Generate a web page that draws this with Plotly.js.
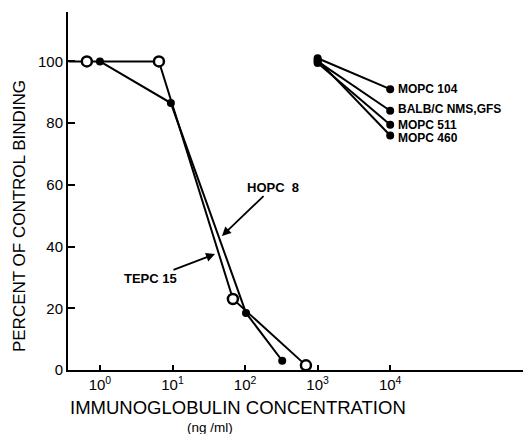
<!DOCTYPE html>
<html>
<head>
<meta charset="utf-8">
<script src="https://cdn.plot.ly/plotly-3.0.1.min.js"></script>
<style>html,body{margin:0;padding:0;background:#fff;}#chart{width:525px;height:434px;}</style>
</head>
<body>
<div id="chart"></div>
<script>
// Data
const tepcConc = [0.37, 0.66, 6.5, 68, 690];     // ng/ml (first value = start of line at axis edge)
const tepcBinding = [100, 100, 100, 23, 1.5];
const hopcConc = [1, 9.5, 103, 325];
const hopcBinding = [100, 86.5, 18.5, 3];
const ctrlConc = [1000, 10000];
const mopc104 = [101, 91];
const balbNms = [100, 84];
const mopc511 = [99.5, 79.5];
const mopc460 = [100.5, 76];
const ctrlNames = ["MOPC 104", "BALB/C NMS,GFS", "MOPC 511", "MOPC 460"];
const ctrlSeries = [mopc104, balbNms, mopc511, mopc460];
const xTickVals = [1, 10, 100, 1000, 10000];
const xTickText = ["10<sup>0</sup>", "10<sup>1</sup>", "10<sup>2</sup>", "10<sup>3</sup>", "10<sup>4</sup>"];
const yTickVals = [0, 20, 40, 60, 80, 100];

const FONT = "Liberation Sans, Arial, sans-serif";
const traces = [];
traces.push({
  x: tepcConc, y: tepcBinding, mode: "lines+markers", name: "TEPC 15",
  line: {color: "#000", width: 2},
  marker: {symbol: "circle", size: tepcConc.map((v, i) => i === 0 ? 0 : 10), color: "#fff", opacity: 1, line: {color: "#000", width: 2.5}},
  cliponaxis: false
});
traces.push({
  x: hopcConc, y: hopcBinding, mode: "lines+markers", name: "HOPC 8",
  line: {color: "#000", width: 2},
  marker: {symbol: "circle", size: 8, color: "#000"},
  cliponaxis: false
});
ctrlSeries.forEach((s, i) => {
  traces.push({
    x: ctrlConc, y: s, mode: "lines+markers", name: ctrlNames[i],
    line: {color: "#000", width: 2},
    marker: {symbol: "circle", size: 8, color: "#000"},
    cliponaxis: false
  });
});

const labelShift = [0, 2, 0, -3];
const annotations = ctrlSeries.map((s, i) => ({
  x: Math.log10(ctrlConc[1]), y: s[1], xref: "x", yref: "y",
  text: "<b>" + ctrlNames[i] + "</b>", showarrow: false,
  xanchor: "left", yanchor: "middle", xshift: 6, yshift: labelShift[i],
  font: {family: FONT, size: 12, color: "#000"}
}));
annotations.push({
  x: Math.log10(48), y: 43.4, xref: "x", yref: "y",
  text: "<b>HOPC  8</b>", showarrow: true, arrowhead: 2, arrowsize: 1, arrowwidth: 1.8, arrowcolor: "#000",
  ax: 51, ay: -49, font: {family: FONT, size: 13, color: "#000"}
});
annotations.push({
  x: Math.log10(38.6), y: 37.6, xref: "x", yref: "y",
  text: "<b>TEPC 15</b>", showarrow: true, arrowhead: 2, arrowsize: 1, arrowwidth: 1.8, arrowcolor: "#000",
  ax: -65, ay: 25, font: {family: FONT, size: 13, color: "#000"}
});
annotations.push({
  x: 0.373, y: 0, xref: "paper", yref: "paper", yshift: -37,
  text: "IMMUNOGLOBULIN CONCENTRATION", showarrow: false,
  xanchor: "center", yanchor: "middle",
  font: {family: FONT, size: 18.5, color: "#000"}
});
annotations.push({
  x: 0.312, y: 0, xref: "paper", yref: "paper", yshift: -57,
  text: "(ng /ml)", showarrow: false,
  xanchor: "center", yanchor: "middle",
  font: {family: FONT, size: 13.5, color: "#000"}
});
annotations.push({
  x: 0, y: 0.43, xref: "paper", yref: "paper", xshift: -49,
  text: "PERCENT OF CONTROL BINDING", showarrow: false, textangle: -90,
  xanchor: "center", yanchor: "middle",
  font: {family: FONT, size: 17, color: "#000"}
});

const layout = {
  width: 525, height: 434,
  margin: {l: 68, r: 2, t: 12, b: 64},
  paper_bgcolor: "#fff", plot_bgcolor: "#fff",
  showlegend: false,
  font: {family: FONT, color: "#000"},
  xaxis: {
    type: "log", range: [-0.44, 5.83],
    tickvals: xTickVals, ticktext: xTickText,
    ticks: "inside", ticklen: 5, tickwidth: 2, tickcolor: "#000",
    showline: true, linewidth: 2, linecolor: "#000",
    showgrid: false, zeroline: false,
    tickfont: {family: FONT, size: 15, color: "#000"}
  },
  yaxis: {
    range: [0, 116],
    tickvals: yTickVals,
    ticks: "inside", ticklen: 7, tickwidth: 2, tickcolor: "#000",
    showline: true, linewidth: 2, linecolor: "#000",
    showgrid: false, zeroline: false,
    tickfont: {family: FONT, size: 15, color: "#000"}
  },
  annotations: annotations
};

Plotly.newPlot("chart", traces, layout, {staticPlot: true, displayModeBar: false});
</script>
</body>
</html>
